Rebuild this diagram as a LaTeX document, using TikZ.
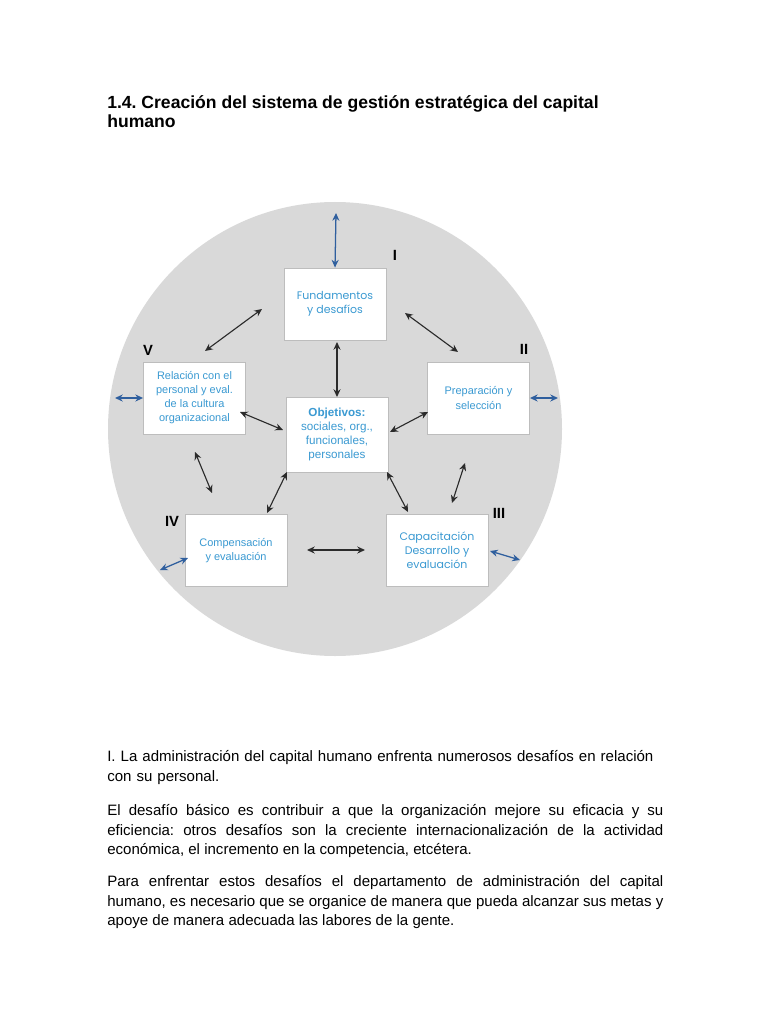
\documentclass[tikz,border=0pt]{standalone}
\usepackage{fontspec}
\setmainfont{Liberation Sans}
\newfontfamily\gothicfont{Poppins}
\usetikzlibrary{arrows.meta}
\frenchspacing

\definecolor{circlegray}{HTML}{D9D9D9}
\definecolor{boxline}{HTML}{BDBDBD}
\definecolor{boxtext}{HTML}{3B9AD2}
\definecolor{linkblue}{HTML}{2F5F9E}
\definecolor{linkdark}{HTML}{2B2B2B}

\begin{document}
\begin{tikzpicture}[x=0.025cm, y=-0.025cm,
	box/.style={draw=boxline, line width=0.6pt, fill=white, minimum width=2.55cm, minimum height=1.8cm, align=center, text=boxtext, font=\fontsize{7.8}{10}\selectfont},
	numeral/.style={font=\fontsize{10.5}{12}\selectfont\bfseries},
	link/.style={linkdark, line width=0.8pt, {Stealth[length=5.5pt,width=5pt]}-{Stealth[length=5.5pt,width=5pt]}},
	outlink/.style={linkblue, line width=0.9pt, {Stealth[length=5.5pt,width=5pt]}-{Stealth[length=5.5pt,width=5pt]}}]
	\useasboundingbox (0,0) rectangle (768,1024);
	\fill[white] (0,0) rectangle (768,1024);
	
	% Title
	\node[anchor=north west, align=left, inner sep=0pt, font=\fontsize{12.5}{14}\selectfont\bfseries] (title) at (107,95) {1.4. Creación del sistema de gestión estratégica del capital\\humano};
	
	% Background disc
	\fill[circlegray] (335,429) circle[radius=227];
	
	% Boxes
	\node[box] (F) at (335,304) {\gothicfont Fundamentos\\\gothicfont y desafíos};
	\node[box] (R) at (194.5,398) {Relación con el\\personal y eval.\\de la cultura\\organizacional};
	\node[box] (P) at (478.5,398) {Preparación y\\selección};
	\node[box, minimum height=1.875cm, font=\fontsize{8.3}{10}\selectfont] (O) at (337,434.5) {\textbf{Objetivos:}\\sociales, org.,\\funcionales,\\personales};
	\node[box] (E) at (236,550.5) {Compensación\\y evaluación};
	\node[box] (C) at (437,550) {\gothicfont Capacitación\\\gothicfont Desarrollo y\\\gothicfont evaluación};
	
	% Numerals
	\node[numeral] (n1) at (395,255) {I};
	\node[numeral] (n2) at (524,349) {II};
	\node[numeral] (n3) at (499,513) {III};
	\node[numeral] (n4) at (172,521) {IV};
	\node[numeral] (n5) at (148,350) {V};
	
	% Arrow ends between boxes
	\coordinate (FR1) at (262,309);
	\coordinate (FR2) at (205,351);
	\coordinate (FP1) at (405,313);
	\coordinate (FP2) at (458,352);
	\coordinate (FO1) at (337,342);
	\coordinate (FO2) at (337,397);
	\coordinate (RO1) at (240,412);
	\coordinate (RO2) at (283,430);
	\coordinate (PO1) at (428,412);
	\coordinate (PO2) at (390,432);
	\coordinate (RE1) at (195,452);
	\coordinate (RE2) at (212,493);
	\coordinate (OE1) at (287,472);
	\coordinate (OE2) at (267,513);
	\coordinate (OC1) at (387,472);
	\coordinate (OC2) at (408,512);
	\coordinate (PC1) at (465,463);
	\coordinate (PC2) at (452,503);
	\coordinate (EC1) at (307,550);
	\coordinate (EC2) at (365,550);
	
	\draw[link] (FR1) -- (FR2);
	\draw[link] (FP1) -- (FP2);
	\draw[link] (FO1) -- (FO2);
	\draw[link] (RO1) -- (RO2);
	\draw[link] (PO1) -- (PO2);
	\draw[link] (RE1) -- (RE2);
	\draw[link] (OE1) -- (OE2);
	\draw[link] (OC1) -- (OC2);
	\draw[link] (PC1) -- (PC2);
	\draw[link] (EC1) -- (EC2);
	
	% Arrows out to the rim
	\coordinate (rimF) at (336,213);
	\coordinate (rimR) at (115,398);
	\coordinate (rimP) at (558,398);
	\coordinate (rimE) at (160,570);
	\coordinate (rimC) at (520,560);
	
	\draw[outlink] (rimF) -- (F.north);
	\draw[outlink] (rimR) -- (R.west);
	\draw[outlink] (P.east) -- (rimP);
	\draw[outlink] (rimE) -- (188,558);
	\draw[outlink] (490,551) -- (rimC);
	
	% Text below
	\node[anchor=north west, inner sep=0pt, text width=13.9cm, align=left, font=\fontsize{10.7}{14}\selectfont] (p1) at (107,750) {I. La administración del capital humano enfrenta numerosos desafíos en relación\\con su personal.};
	\node[anchor=north west, inner sep=0pt, text width=13.9cm, align=justify, font=\fontsize{10.7}{14}\selectfont] (p2) at (107,804) {El desafío básico es contribuir a que la organización mejore su eficacia y su\linebreak eficiencia: otros desafíos son la creciente internacionalización de la actividad\linebreak económica, el incremento en la competencia, etcétera.};
	\node[anchor=north west, inner sep=0pt, text width=13.9cm, align=justify, font=\fontsize{10.7}{14}\selectfont] (p3) at (107,875) {Para enfrentar estos desafíos el departamento de administración del capital\linebreak humano, es necesario que se organice de manera que pueda alcanzar sus metas y\linebreak apoye de manera adecuada las labores de la gente.};
\end{tikzpicture}
\end{document}
